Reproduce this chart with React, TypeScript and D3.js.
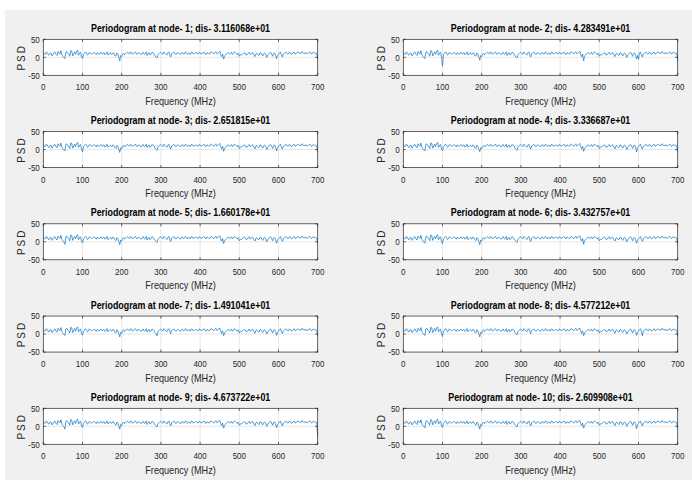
import React from "react";
import * as d3 from "d3";

const freqStep = 5;
// samples at 0, 5, 10, ... 700 MHz
const psdBase: number[] = [
  12, 8, 13, 6, 11, 9, 14, 5, 12, 18, 2, -4, 16, 9, 19, 4, 15, 17, 6, 14,
  -3, 11, 13, 8, 12, 10, 14, 7, 11, 12, 9, 13, 10, 6, 12, 8, 11, 3, 9, -8,
  2, 12, 10, 14, 9, 13, 11, 15, 8, 12, 7, 14, 10, 5, 13, 9, 12, 4, -2, 10,
  14, 8, 12, 6, 15, 1, 11, 13, 9, 12, 7, 14, 10, 13, 11, 8, 14, 10, 12, 9,
  13, 11, 15, 8, 12, 10, 14, 9, 16, 11, 17, 2, -5, 6, 12, 9, 14, 11, 13, 8,
  3, 6, 10, 12, 7, 14, 9, 12, 2, 11, 5, 13, 4, 12, 0, 10, 14, 3, 12, -4,
  8, 15, 1, 11, 14, 9, 13, 10, 15, 11, 14, 12, 16, 10, 13, 11, 15, 9, 14, 12,
  -5,
];
// samples at 2.5, 7.5, ... 697.5 MHz
const psdMid: number[] = [
  10, 15, 7, 12, 4, 13, 8, 16, 9, 7, -1, 14, 11, 3, 17, 10, 8, 20, 12, 1,
  8, 15, 6, 14, 9, 12, 11, 13, 8, 14, 11, 7, 15, 9, 10, 13, 6, 12, 1, 5,
  9, 7, 13, 11, 15, 8, 12, 10, 13, 9, 12, 8, 15, 11, 6, 14, 10, 1, 7, 13,
  11, 15, 9, 12, 7, 10, 14, 8, 13, 10, 12, 9, 15, 8, 12, 14, 9, 13, 11, 14,
  9, 12, 10, 13, 9, 15, 11, 13, 10, 14, 8, 9, 3, 10, 13, 11, 8, 15, 10, 12,
  7, 9, 13, 6, 11, 8, 13, 6, 10, 8, 12, 7, 11, 8, 6, 12, 9, 11, 7, 5,
  12, 6, 9, 13, 10, 14, 8, 12, 9, 13, 12, 10, 14, 12, 9, 14, 10, 13, 11, 10,
];

const nodes = [1, 2, 3, 4, 5, 6, 7, 8, 9, 10];
const distances = [
  "3.116068e+01", "4.283491e+01", "2.651815e+01", "3.336687e+01", "1.660178e+01",
  "3.432757e+01", "1.491041e+01", "4.577212e+01", "4.673722e+01", "2.609908e+01",
];
// per-node deviations from the common trace: [frequency, value]
const nodeOverrides: [number, number][][] = [
  [[195, -10]],
  [[100, -25], [460, -10], [600, -6], [700, -8]],
  [[100, -6], [700, -6]],
  [[195, -6], [595, -7]],
  [[55, -7], [700, -4]],
  [[100, -5], [460, -7]],
  [[290, -5], [700, -6]],
  [[100, -7], [610, -5]],
  [[55, -8], [700, -28]],
  [[595, -7], [700, -5]],
];
const xTicks = [0, 100, 200, 300, 400, 500, 600, 700];
const yTicks = [-50, 0, 50];

const W = 692;
const H = 486;
const colLeft = [43.3, 403.3];
const boxW = 274.4;
const boxH = 36;
const rowTop0 = 39.3;
const rowPitch = 92.25;
const textColor = "#262626";
const font = "'Liberation Sans', Arial, sans-serif";
const SX = 0.87;

function Panel({ idx }: { idx: number }) {
  const col = idx % 2;
  const row = Math.floor(idx / 2);
  const left = colLeft[col];
  const top = rowTop0 + row * rowPitch;
  const x = d3.scaleLinear().domain([0, 700]).range([left, left + boxW]);
  const y = d3.scaleLinear().domain([-50, 50]).range([top + boxH, top]);
  const over = new Map(nodeOverrides[idx].map(([f, v]) => [f, v]));
  const data: [number, number][] = [];
  psdBase.forEach((v, i) => {
    const f = i * freqStep;
    data.push([f, over.has(f) ? (over.get(f) as number) : v]);
    if (i < psdMid.length) data.push([f + freqStep / 2, psdMid[i]]);
  });
  const line = d3
    .line<[number, number]>()
    .x((d) => x(d[0]))
    .y((d) => y(d[1]));
  const txt = (tx: number, ty: number) => `translate(${tx},${ty}) scale(${SX},1)`;
  const title = `Periodogram at node- ${nodes[idx]}; dis- ${distances[idx]}`;
  return (
    <g>
      <rect x={left} y={top} width={boxW} height={boxH} fill="#ffffff" />
      {xTicks.slice(1, -1).map((t) => (
        <line key={"gx" + t} x1={x(t)} x2={x(t)} y1={top} y2={top + boxH} stroke="#dcdcdc" strokeWidth={0.7} />
      ))}
      <line x1={left} x2={left + boxW} y1={y(0)} y2={y(0)} stroke="#dcdcdc" strokeWidth={0.7} />
      <path d={line(data) || ""} fill="none" stroke="#1a7cc4" strokeWidth={0.75} />
      <rect x={left} y={top} width={boxW} height={boxH} fill="none" stroke={textColor} strokeWidth={0.7} />
      {xTicks.map((t) => (
        <g key={"tx" + t}>
          <line x1={x(t)} x2={x(t)} y1={top + boxH} y2={top + boxH - 2.5} stroke={textColor} strokeWidth={0.7} />
          <line x1={x(t)} x2={x(t)} y1={top} y2={top + 2.5} stroke={textColor} strokeWidth={0.7} />
          <text transform={txt(x(t), top + boxH + 15)} textAnchor="middle" fontSize={9.2} fontFamily={font} fill={textColor}>
            {t}
          </text>
        </g>
      ))}
      {yTicks.map((t) => (
        <g key={"ty" + t}>
          <line x1={left} x2={left + 2.5} y1={y(t)} y2={y(t)} stroke={textColor} strokeWidth={0.7} />
          <line x1={left + boxW} x2={left + boxW - 2.5} y1={y(t)} y2={y(t)} stroke={textColor} strokeWidth={0.7} />
          <text transform={txt(left - 3.5, y(t) + 3.3)} textAnchor="end" fontSize={9.2} fontFamily={font} fill={textColor}>
            {t}
          </text>
        </g>
      ))}
      <text transform={txt(left + boxW / 2, top - 7.5)} textAnchor="middle" fontSize={10.2} fontWeight="bold" fontFamily={font} fill="#000">
        {title}
      </text>
      <text transform={txt(left + boxW / 2, top + boxH + 29.5)} textAnchor="middle" fontSize={10.5} fontFamily={font} fill={textColor}>
        Frequency (MHz)
      </text>
      <text
        transform={`translate(${left - 18},${top + boxH / 2}) rotate(-90)`}
        textAnchor="middle"
        fontSize={10}
        fontFamily={font}
        fill={textColor}
        letterSpacing={2}
      >
        PSD
      </text>
    </g>
  );
}

export default function App() {
  return (
    <svg width={W} height={H} style={{ position: "absolute", left: 0, top: 0 }}>
      <rect x={0} y={0} width={W} height={H} fill="#ffffff" />
      <rect x={5} y={10} width={W - 5} height={470} fill="#f0f0f0" />
      {nodes.map((n, i) => (
        <Panel key={n} idx={i} />
      ))}
    </svg>
  );
}
